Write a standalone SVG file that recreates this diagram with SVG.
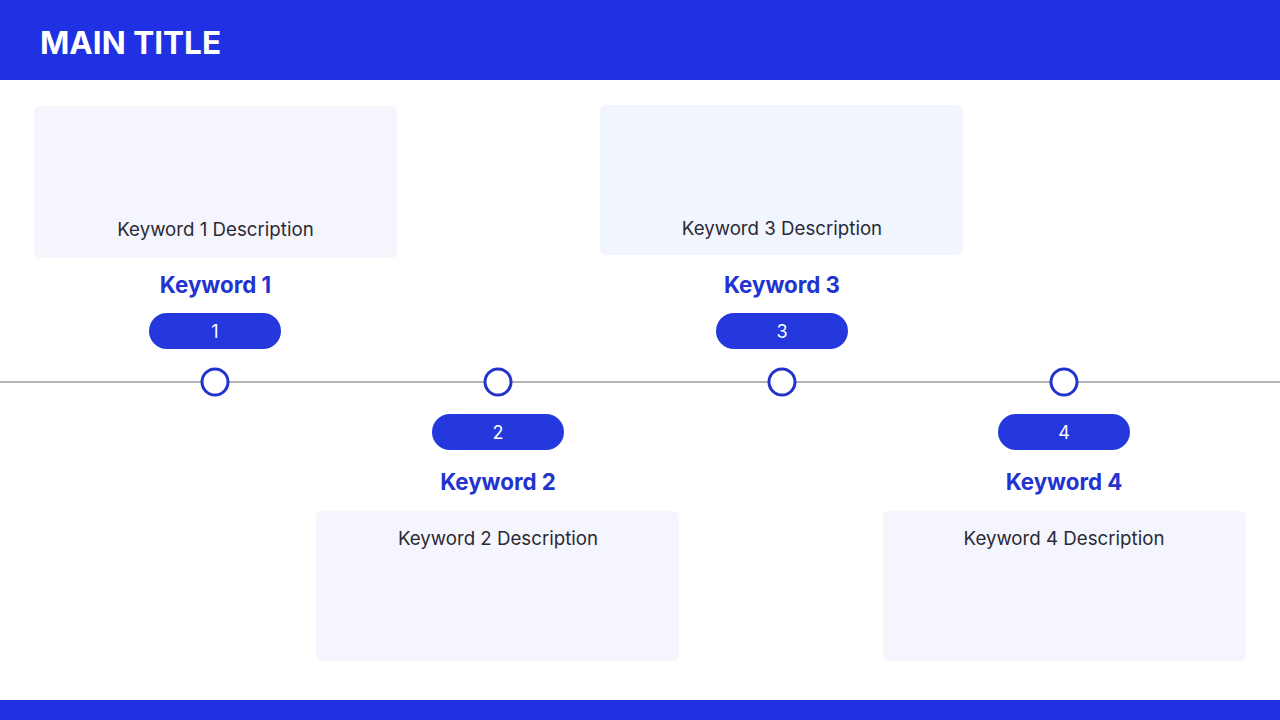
<svg xmlns="http://www.w3.org/2000/svg" width="1280" height="720" viewBox="0 0 1280 720">
<style>
text{font-family:Inter,"Noto Sans","Liberation Sans",sans-serif}
.bar{fill:#1F31E3}
.title{fill:#fff;font-size:31.5px;font-weight:700}
.box{fill:#F5F5FD}
.box3{fill:#F0F5FE}
.desc{fill:#2a2a35;font-size:18.7px;text-anchor:middle}
.kw{fill:#2233D0;font-size:22.3px;font-weight:700;text-anchor:middle}
.pill{fill:#2438DD}
.num{fill:#fff;font-size:18px;text-anchor:middle}
.dot{fill:#fff;stroke:#2233CC;stroke-width:3}
.line{stroke:#B3B3B3;stroke-width:2}
</style>
<rect width="1280" height="720" fill="#fff"/>
<rect class="bar" x="0" y="0" width="1280" height="80"/>
<text class="title" x="40" y="54">MAIN TITLE</text>
<rect class="bar" x="0" y="700" width="1280" height="20"/>
<g id="connectors">
<line class="line" x1="0" y1="382" x2="1280" y2="382"/>
</g>
<g id="node1">
<rect class="box" x="34" y="106" width="363" height="152" rx="6"/>
<text class="desc" x="215.5" y="236">Keyword 1 Description</text>
<text class="kw" x="215.5" y="293">Keyword 1</text>
<rect class="pill" x="149" y="313" width="132" height="36" rx="18"/>
<text class="num" x="215" y="337.5">1</text>
<circle class="dot" cx="215" cy="382" r="13"/>
</g>
<g id="node2">
<circle class="dot" cx="498" cy="382" r="13"/>
<rect class="pill" x="432" y="414" width="132" height="36" rx="18"/>
<text class="num" x="498" y="438.5">2</text>
<text class="kw" x="498" y="490">Keyword 2</text>
<rect class="box" x="316" y="511" width="363" height="150" rx="6"/>
<text class="desc" x="498" y="545">Keyword 2 Description</text>
</g>
<g id="node3">
<rect class="box3" x="600" y="105" width="363" height="150" rx="6"/>
<text class="desc" x="782" y="235">Keyword 3 Description</text>
<text class="kw" x="782" y="293">Keyword 3</text>
<rect class="pill" x="716" y="313" width="132" height="36" rx="18"/>
<text class="num" x="782" y="337.5">3</text>
<circle class="dot" cx="782" cy="382" r="13"/>
</g>
<g id="node4">
<circle class="dot" cx="1064" cy="382" r="13"/>
<rect class="pill" x="998" y="414" width="132" height="36" rx="18"/>
<text class="num" x="1064" y="438.5">4</text>
<text class="kw" x="1064" y="490">Keyword 4</text>
<rect class="box" x="883" y="511" width="363" height="150" rx="6"/>
<text class="desc" x="1064" y="545">Keyword 4 Description</text>
</g>
</svg>
